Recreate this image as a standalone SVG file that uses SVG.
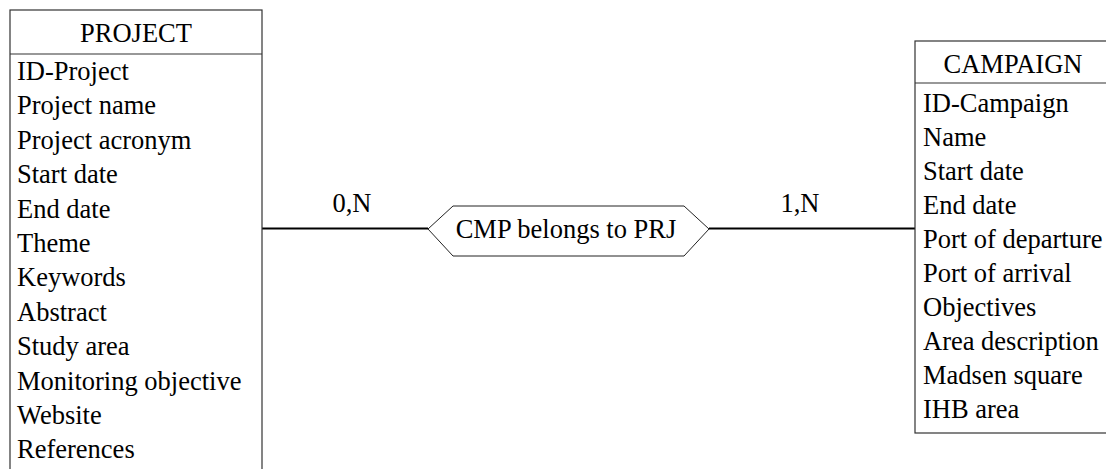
<svg xmlns="http://www.w3.org/2000/svg" width="1106" height="469" viewBox="0 0 1106 469">
<style>
text{font-family:"Liberation Serif","Times New Roman",serif;font-size:26.5px;fill:#000}
.c{text-anchor:middle}
.box{fill:#fff;stroke:#333;stroke-width:1.2}
.sep{stroke:#333;stroke-width:1.2}
.conn{stroke:#000;stroke-width:1.8;fill:none}
</style>
<rect width="1106" height="469" fill="#fff"/>
<g id="connectors">
<line class="conn" x1="262" y1="228.5" x2="428" y2="228.5"/>
<line class="conn" x1="709" y1="228.5" x2="915" y2="228.5"/>
<text class="c" x="352" y="212">0,N</text>
<text class="c" x="800" y="212">1,N</text>
</g>
<g id="project">
<rect class="box" x="10" y="10" width="252" height="470"/>
<line class="sep" x1="10" y1="54" x2="262" y2="54"/>
<text class="c" x="136" y="42">PROJECT</text>
<text x="17" y="80">ID-Project</text>
<text x="17" y="114.4">Project name</text>
<text x="17" y="148.8">Project acronym</text>
<text x="17" y="183.2">Start date</text>
<text x="17" y="217.6">End date</text>
<text x="17" y="252">Theme</text>
<text x="17" y="286.4">Keywords</text>
<text x="17" y="320.8">Abstract</text>
<text x="17" y="355.2">Study area</text>
<text x="17" y="389.6">Monitoring objective</text>
<text x="17" y="424">Website</text>
<text x="17" y="458.4">References</text>
</g>
<g id="relation">
<polygon points="428,229 453,206 684,206 709,229 684,256 453,256" fill="#fff" stroke="#222" stroke-width="1"/>
<text class="c" x="566" y="238">CMP belongs to PRJ</text>
</g>
<g id="campaign">
<rect class="box" x="915" y="41" width="200" height="392"/>
<line class="sep" x1="915" y1="83" x2="1106" y2="83"/>
<text class="c" x="1013" y="73">CAMPAIGN</text>
<text x="923" y="112">ID-Campaign</text>
<text x="923" y="146">Name</text>
<text x="923" y="180">Start date</text>
<text x="923" y="214">End date</text>
<text x="923" y="248">Port of departure</text>
<text x="923" y="282">Port of arrival</text>
<text x="923" y="316">Objectives</text>
<text x="923" y="350">Area description</text>
<text x="923" y="384">Madsen square</text>
<text x="923" y="418">IHB area</text>
</g>
</svg>
